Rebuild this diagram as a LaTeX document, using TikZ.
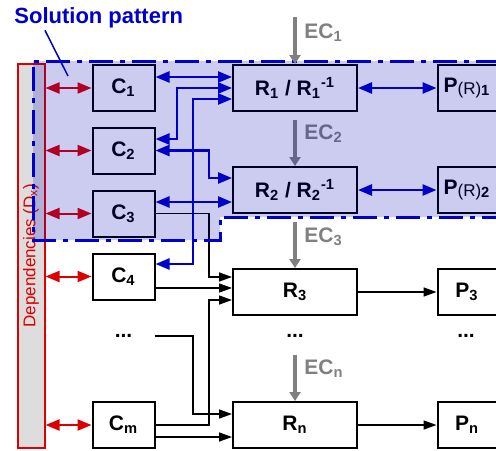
\documentclass[tikz,border=0pt]{standalone}
\usepackage{fontspec}
\setmainfont{Liberation Sans}
\usepackage{xcolor}
\definecolor{spblue}{RGB}{0,0,204}
\definecolor{spshade}{RGB}{0,0,180}
\definecolor{depred}{RGB}{220,0,0}
\definecolor{depgray}{RGB}{221,221,221}
\definecolor{ecgray}{RGB}{128,128,128}
\usetikzlibrary{arrows.meta}

\tikzset{
  blockbox/.style={draw=black, line width=1pt, fill=white, minimum height=23pt, inner sep=0pt,
    font=\fontsize{10.5}{12}\selectfont\bfseries},
  cbox/.style={blockbox, minimum width=31pt},
  rbox/.style={blockbox, minimum width=62pt},
  pbox/.style={blockbox, minimum width=29.5pt},
  dotsnode/.style={minimum width=31pt, inner sep=0pt, font=\fontsize{10.5}{12}\selectfont\bfseries},
  depbar/.style={draw=depred, fill=depgray, line width=1pt, minimum width=13.5pt, minimum height=192pt, inner sep=0pt},
  deptext/.style={rotate=90, text=depred, inner sep=0pt, font=\fontsize{8.5}{10}\selectfont},
  deplink/.style={depred, line width=1pt, <->, >={Triangle[length=7pt,width=5.5pt]}},
  bluelink/.style={spblue, line width=1.25pt, <->, >={Triangle[length=7pt,width=5.5pt]}},
  plainlink/.style={black, line width=.75pt, ->, >={Triangle[length=6.5pt,width=4.5pt]}},
  ecarrow/.style={ecgray, line width=2pt, ->, >={Triangle[length=4.5pt,width=5.5pt]}},
  eclabel/.style={anchor=west, text=ecgray, inner sep=0pt, font=\fontsize{10.5}{12}\selectfont\bfseries},
  patternfill/.style={fill=spshade, fill opacity=.2},
  patternline/.style={spblue, line width=1.5pt, dash pattern=on 12pt off 3.5pt on 2.5pt off 3.5pt},
  patternlabel/.style={anchor=base west, text=spblue, inner sep=0pt, font=\fontsize{11}{13}\selectfont\bfseries},
  pointer/.style={spblue, line width=.75pt}
}

\begin{document}
\begin{tikzpicture}[x=0.5pt, y=-0.5pt]
  \useasboundingbox (0,0) rectangle (496,450);
  \clip (0,0) rectangle (496,450);

  %% Dependencies bar
  \node[depbar] (dep) at (31,255.5) {};
  \node[deptext] (deplabel) at (dep.center) {Dependencies (D\textsubscript{x})};

  %% Components
  \node[cbox] (c1) at (123.5,88)    {C\textsubscript{1}};
  \node[cbox] (c2) at (123.5,150.5) {C\textsubscript{2}};
  \node[cbox] (c3) at (123.5,213.5) {C\textsubscript{3}};
  \node[cbox] (c4) at (123.5,276.5) {C\textsubscript{4}};
  \node[dotsnode] (cdots) at (123.5,336) {...};
  \node[cbox] (cm) at (123.5,425)   {C\textsubscript{m}};

  %% R boxes
  \node[rbox] (r1) at (295,88)  {R\textsubscript{1} / R\textsubscript{1}\textsuperscript{-1}};
  \node[rbox] (r2) at (295,190) {R\textsubscript{2} / R\textsubscript{2}\textsuperscript{-1}};
  \node[rbox] (r3) at (295,292) {R\textsubscript{3}};
  \node[dotsnode] (rdots) at (295,336) {...};
  \node[rbox] (rn) at (295,425) {R\textsubscript{n}};

  %% P boxes
  \node[pbox] (p1) at (467,88)  {P\raisebox{-1pt}{\mdseries\fontsize{8.5}{9}\selectfont(R)}\textsubscript{1}};
  \node[pbox] (p2) at (467,190) {P\raisebox{-1pt}{\mdseries\fontsize{8.5}{9}\selectfont(R)}\textsubscript{2}};
  \node[pbox] (p3) at (467,292) {P\textsubscript{3}};
  \node[dotsnode] (pdots) at (466,336) {...};
  \node[pbox] (pn) at (467,425) {P\textsubscript{n}};

  %% Dependency links
  \foreach \c in {c1,c2,c3,c4,cm}
    \draw[deplink] (dep.east |- \c) -- (\c.west);

  %% Links inside the solution pattern
  \draw[bluelink] (c1.east |- 0,77) -- (r1.west |- 0,77);
  \draw[bluelink] (c2.east |- 0,139) -| (177,88) -- (r1.west);
  \draw[bluelink] (c4.east |- 0,264) -| (193,99) -- (r1.west |- 0,99);
  \draw[bluelink] (c2.east) -| (209,178) -- (r2.west |- 0,178);
  \draw[bluelink] (c3.east |- 0,202) -- (r2.west |- 0,202);
  \draw[bluelink] (r1) -- (p1);
  \draw[bluelink] (r2) -- (p2);

  %% Remaining links
  \draw[plainlink] (c3.east) -| (209,277) -- (r3.west |- 0,277);
  \draw[plainlink] (c4.east |- 0,288) -- (r3.west |- 0,288);
  \draw[plainlink] (cm.east) -| (209,300) -- (r3.west |- 0,300);
  \draw[plainlink] (cdots.east) -| (193,414) -- (rn.west |- 0,414);
  \draw[plainlink] (cm.east |- 0,437) -- (rn.west |- 0,437);
  \draw[plainlink] (r3) -- (p3);
  \draw[plainlink] (rn) -- (pn);

  %% EC arrows
  \coordinate (ec2top) at (295,120);
  \draw[ecarrow] (ec2top) -- (r2.north);
  \node[eclabel] (ec2) at (304,134) {EC\textsubscript{2}};

  %% Solution pattern area
  \fill[patternfill] (33,61) -- (500,61) -- (500,217) -- (220,217) -- (220,240) -- (33,240) -- cycle;
  \draw[patternline] (500,61) -- (33,61) -- (33,240) -- (220,240) -- (220,217) -- (500,217);
  \node[patternlabel] (solpat) at (14,23) {Solution pattern};
  \coordinate (sptip) at (68,76);
  \draw[pointer] ([xshift=15.5pt,yshift=-1.2pt]solpat.south west) -- (sptip);

  \coordinate (ec1top) at (295,17);
  \draw[ecarrow] (ec1top) -- (r1.north);
  \node[eclabel] (ec1) at (304,33) {EC\textsubscript{1}};
  \coordinate (ec3top) at (295,222);
  \draw[ecarrow] (ec3top) -- (r3.north);
  \node[eclabel] (ec3) at (304,237) {EC\textsubscript{3}};
  \coordinate (ecntop) at (295,355);
  \draw[ecarrow] (ecntop) -- (rn.north);
  \node[eclabel] (ecn) at (304,369) {EC\textsubscript{n}};
\end{tikzpicture}
\end{document}
